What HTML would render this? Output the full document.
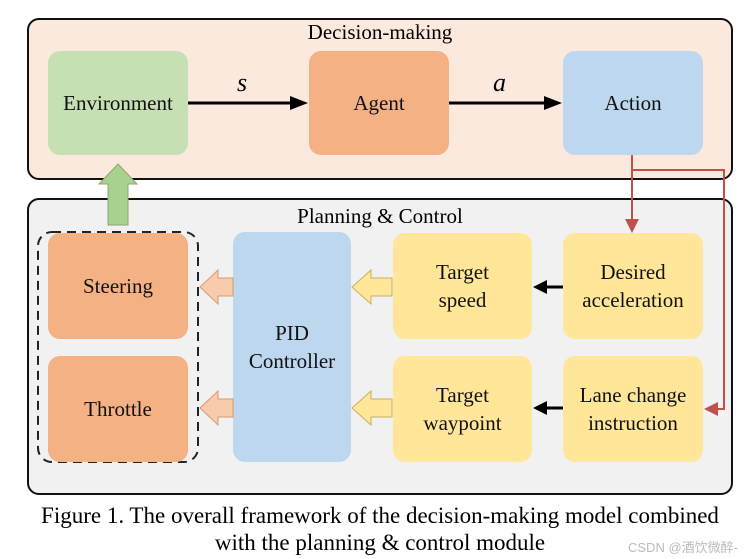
<!DOCTYPE html>
<html><head><style>
body{margin:0;background:#fff;width:751px;height:559px;overflow:hidden;position:relative;font-family:"Liberation Serif",serif;}
.a{position:absolute;box-sizing:border-box;}
.box{position:absolute;border-radius:12px;display:flex;align-items:center;justify-content:center;text-align:center;font-size:21px;line-height:28px;color:#111;}
</style></head><body>
<div class="a" style="left:27px;top:18px;width:706px;height:162px;background:#fce9dd;border:2px solid #111;border-radius:12px"></div>
<div class="a" style="left:0;top:20px;width:760px;text-align:center;font-size:21px">Decision-making</div>
<div class="a" style="left:27px;top:198px;width:706px;height:297px;background:#f1f1f1;border:2px solid #111;border-radius:12px"></div>
<div class="a" style="left:0;top:204px;width:760px;text-align:center;font-size:21px">Planning &amp; Control</div>

<div class="box" style="left:48px;top:51px;width:140px;height:104px;background:#c6e0b4">Environment</div>
<div class="box" style="left:309px;top:51px;width:140px;height:104px;background:#f4b183">Agent</div>
<div class="box" style="left:563px;top:51px;width:140px;height:104px;background:#bdd7ee">Action</div>
<div class="a" style="left:237px;top:68px;font-size:26px;font-style:italic">s</div>
<div class="a" style="left:493px;top:68px;font-size:26px;font-style:italic">a</div>

<svg class="a" style="left:0;top:0" width="751" height="559">
<rect x="38" y="232" width="160" height="230" rx="14" fill="none" stroke="#222" stroke-width="2" stroke-dasharray="9,6"/>
</svg>
<div class="box" style="left:48px;top:233px;width:140px;height:106px;background:#f4b183">Steering</div>
<div class="box" style="left:48px;top:356px;width:140px;height:106px;background:#f4b183">Throttle</div>
<div class="box" style="left:233px;top:232px;width:118px;height:230px;background:#bdd7ee">PID<br>Controller</div>
<div class="box" style="left:393px;top:233px;width:139px;height:106px;background:#ffe699">Target<br>speed</div>
<div class="box" style="left:393px;top:356px;width:139px;height:106px;background:#ffe699">Target<br>waypoint</div>
<div class="box" style="left:563px;top:233px;width:140px;height:106px;background:#ffe699">Desired<br>acceleration</div>
<div class="box" style="left:563px;top:356px;width:140px;height:106px;background:#ffe699">Lane change<br>instruction</div>

<svg class="a" style="left:0;top:0" width="751" height="559">
<g stroke="#000" stroke-width="3" fill="#000">
<line x1="188" y1="103" x2="292" y2="103"/><polygon points="308,103 290,96 290,110" stroke="none"/>
<line x1="449" y1="103" x2="546" y2="103"/><polygon points="562,103 544,96 544,110" stroke="none"/>
<line x1="563" y1="287" x2="546" y2="287"/><polygon points="533,287 547,280 547,294" stroke="none"/>
<line x1="563" y1="408" x2="546" y2="408"/><polygon points="533,408 547,401 547,415" stroke="none"/>
</g>
<g stroke="#c0504d" stroke-width="2" fill="none">
<polyline points="632,155 632,222"/>
<polyline points="632,170 724,170 724,409 716,409"/>
</g>
<polygon points="632,233 625,219 639,219" fill="#c0504d"/>
<polygon points="704,409 718,402 718,416" fill="#c0504d"/>
<polygon points="108,225 108,184 99,184 118,164 137,184 128,184 128,225" fill="#a9d18e" stroke="#8aa872"/>
<g fill="#f8cbad" stroke="#d89a70">
<polygon points="233,278 218,278 218,270 200,287 218,304 218,296 233,296"/>
<polygon points="233,399 218,399 218,391 200,408 218,425 218,417 233,417"/>
</g>
<g fill="#ffe699" stroke="#c8b060">
<polygon points="392,278 371,278 371,270 352,287 371,304 371,296 392,296"/>
<polygon points="392,399 371,399 371,391 352,408 371,425 371,417 392,417"/>
</g>
</svg>

<div class="a" style="left:0;top:502px;width:760px;text-align:center;font-size:23px;line-height:27px">Figure 1. The overall framework of the decision-making model combined<br>with the planning &amp; control module</div>
<div class="a" style="left:628px;top:537px;font-size:13px;color:#bbb;font-family:'Liberation Sans','Noto Sans CJK SC',sans-serif">CSDN @酒饮微醉-</div>
</body></html>
